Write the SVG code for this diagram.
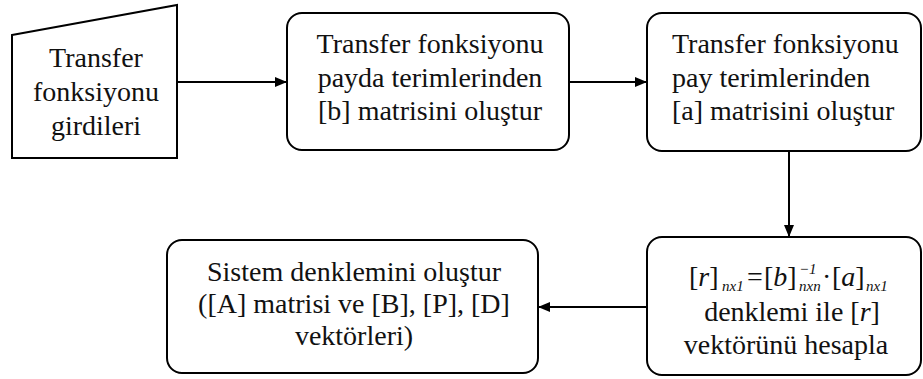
<svg xmlns="http://www.w3.org/2000/svg" width="923" height="379" viewBox="0 0 923 379">
  <style>
    .box { fill: #fff; stroke: #000; stroke-width: 2; }
    text { font-family: 'Liberation Serif', 'DejaVu Serif', serif; font-size: 28px; fill: #111; }
    .mid { text-anchor: middle; }
    .it { font-style: italic; }
    .sm { font-size: 15px; font-style: italic; }
    .edge { stroke: #000; stroke-width: 2; fill: none; marker-end: url(#arrow); }
  </style>
  <defs>
    <marker id="arrow" viewBox="0 0 12 10" refX="12" refY="5" markerWidth="12" markerHeight="10" markerUnits="userSpaceOnUse" orient="auto">
      <path d="M0,0 L12,5 L0,10 Z" fill="#000"/>
    </marker>
  </defs>
  <rect width="923" height="379" fill="#fff"/>

  <!-- manual input node -->
  <g id="input">
    <polygon class="box" points="12,35 177,5 177,158 12,158"/>
    <text class="mid" x="96" y="67">Transfer</text>
    <text class="mid" x="96" y="101">fonksiyonu</text>
    <text class="mid" x="96" y="135">girdileri</text>
  </g>

  <g id="b-matrix">
    <rect class="box" x="287" y="13" width="282" height="137" rx="15"/>
    <text class="mid" x="430" y="53">Transfer fonksiyonu</text>
    <text class="mid" x="430" y="87">payda terimlerinden</text>
    <text class="mid" x="430" y="120">[b] matrisini oluştur</text>
  </g>

  <g id="a-matrix">
    <rect class="box" x="647" y="13" width="274" height="138" rx="15"/>
    <text x="672" y="53">Transfer fonksiyonu</text>
    <text x="672" y="87">pay terimlerinden</text>
    <text x="672" y="120">[a] matrisini oluştur</text>
  </g>

  <g id="r-vector">
    <rect class="box" x="647" y="237" width="274" height="138" rx="15"/>
    <!-- [r]_nx1 = [b]^-1_nxn · [a]_nx1 -->
    <text x="689" y="286">[<tspan class="it">r</tspan>]</text>
    <text class="sm" x="722" y="291">nx1</text>
    <text x="747" y="286">=</text>
    <text x="764" y="286">[<tspan class="it">b</tspan>]</text>
    <text class="sm" x="799" y="274" font-style="normal">−1</text>
    <text class="sm" x="799" y="291">nxn</text>
    <text x="822" y="286">·</text>
    <text x="832" y="286">[<tspan class="it">a</tspan>]</text>
    <text class="sm" x="866" y="291">nx1</text>
    <text class="mid" x="792" y="321">denklemi ile [<tspan class="it">r</tspan>]</text>
    <text class="mid" x="786" y="354">vektörünü hesapla</text>
  </g>

  <g id="system">
    <rect class="box" x="167" y="240" width="371" height="133" rx="15"/>
    <text class="mid" x="354" y="281">Sistem denklemini oluştur</text>
    <text class="mid" x="354" y="313">([A] matrisi ve [B], [P], [D]</text>
    <text class="mid" x="354" y="345">vektörleri)</text>
  </g>

  <g id="connectors">
    <line class="edge" x1="177" y1="82" x2="287" y2="82"/>
    <line class="edge" x1="569" y1="82" x2="647" y2="82"/>
    <line class="edge" x1="789" y1="151" x2="789" y2="237"/>
    <line class="edge" x1="647" y1="307" x2="538" y2="307"/>
  </g>
</svg>
